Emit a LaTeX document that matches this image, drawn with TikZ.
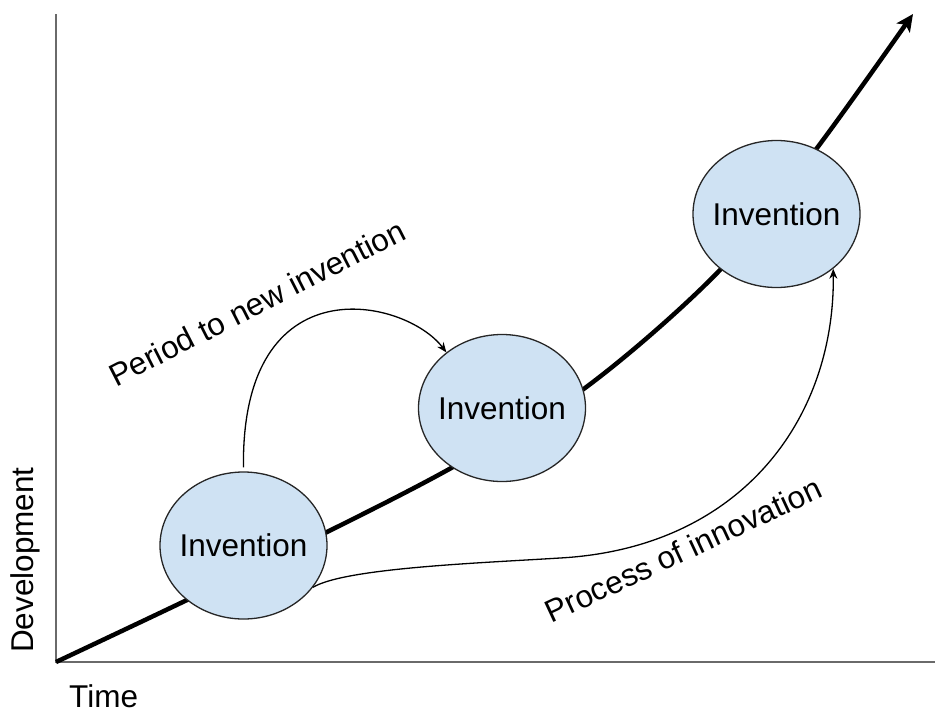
\documentclass[tikz,border=0pt]{standalone}
\usepackage{fontspec}
\setmainfont{Liberation Sans}
\usetikzlibrary{shapes.geometric,arrows.meta}
\definecolor{bubble}{HTML}{CFE2F3}
\definecolor{axisgray}{HTML}{6A6A6A}
\newcommand{\bubbletext}[1]{\makebox[0pt][c]{#1}}
\begin{document}
\begin{tikzpicture}[x=1pt,y=-1pt,
  axis/.style={draw=axisgray,line width=1.8pt},
  growth/.style={line width=4.5pt,-{Stealth[length=17pt,width=16pt,inset=4pt]}},
  invention/.style={ellipse,draw=black!85,line width=1.3pt,fill=bubble,
    minimum width=167pt,minimum height=147pt,inner sep=0pt,
    font=\fontsize{31.5}{36}\selectfont},
  flow/.style={line width=1.3pt,-{Stealth[length=10pt,width=8pt]}},
  lbl/.style={font=\fontsize{31.5}{36}\selectfont,inner sep=0pt,anchor=base}]
\useasboundingbox (0,0) rectangle (935,713);

% axes
\coordinate (O) at (56,662);
\coordinate (ytop) at (56,14);
\coordinate (xend) at (935,662);
\coordinate (tip) at (913,14);
\draw[axis] (ytop) -- (O) -- (xend);

% growth curve, drawn first so the bubbles sit on top of it
\draw[growth] plot[smooth,tension=0.55] coordinates
  {(O) (187,600) (327,532) (453,467) (585,388) (720,270) (817,148) (tip)};

% inventions
\node[invention] (e1) at (243.5,545.5) {\bubbletext{Invention}};
\node[invention] (e2) at (502,408) {\bubbletext{Invention}};
\node[invention] (e3) at (776.5,214) {\bubbletext{Invention}};

% connectors
\draw[flow,shorten <=4pt] (e1.north) .. controls (241,262) and (405,298) .. (e2.135);
\draw[flow] (e1.-31) .. controls (345,568) and (480,563) .. (560,558)
  .. controls (740,548) and (835,420) .. (e3.-44);

% labels
\node[lbl,rotate=27] (period) at (262,313) {Period to new invention};
\node[lbl,rotate=25] (process) at (688,560) {Process of innovation};
\node[lbl,rotate=90] (dev) at (33,560) {Development};
\node[lbl,anchor=base west] (time) at (69,707) {Time};
\end{tikzpicture}
\end{document}
